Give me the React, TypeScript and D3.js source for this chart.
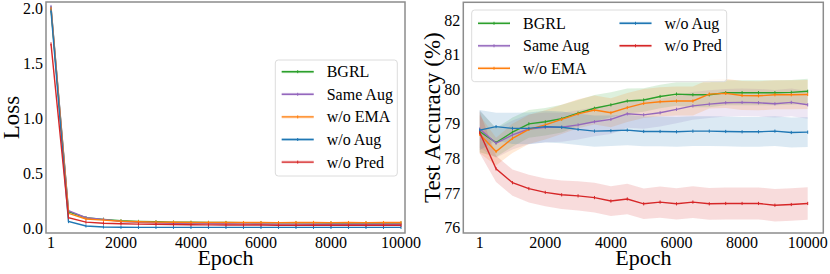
import React from "react";
import * as d3 from "d3";

const epochs = [1, 500, 1000, 1500, 2000, 2500, 3000, 3500, 4000, 4500, 5000, 5500, 6000, 6500, 7000, 7500, 8000, 8500, 9000, 9500, 10000];
const seriesNames = ["BGRL", "Same Aug", "w/o EMA", "w/o Aug", "w/o Pred"];
const seriesColors = ["#2ca02c", "#9467bd", "#ff7f0e", "#1f77b4", "#d62728"];

// Loss (left panel)
const lossBGRL = [2.01, 0.155, 0.1, 0.085, 0.072, 0.066, 0.063, 0.06, 0.058, 0.057, 0.056, 0.055, 0.054, 0.054, 0.053, 0.053, 0.052, 0.052, 0.052, 0.051, 0.051];
const lossSameAug = [2.02, 0.165, 0.1, 0.085, 0.066, 0.058, 0.054, 0.05, 0.048, 0.046, 0.045, 0.044, 0.043, 0.042, 0.042, 0.041, 0.041, 0.04, 0.04, 0.04, 0.04];
const lossNoEMA = [2.0, 0.14, 0.088, 0.078, 0.068, 0.063, 0.06, 0.058, 0.057, 0.056, 0.056, 0.056, 0.056, 0.055, 0.056, 0.057, 0.055, 0.056, 0.055, 0.056, 0.056];
const lossNoAug = [1.98, 0.065, 0.025, 0.016, 0.013, 0.012, 0.012, 0.012, 0.012, 0.012, 0.012, 0.012, 0.012, 0.012, 0.012, 0.012, 0.012, 0.012, 0.012, 0.012, 0.012];
const lossNoPred = [1.68, 0.1, 0.06, 0.05, 0.045, 0.042, 0.04, 0.038, 0.036, 0.035, 0.034, 0.033, 0.033, 0.032, 0.032, 0.031, 0.031, 0.031, 0.031, 0.031, 0.031];

// Test accuracy (right panel) means and std
const accBGRL = [78.78, 78.46, 78.76, 79.0, 79.06, 79.15, 79.31, 79.45, 79.55, 79.66, 79.69, 79.79, 79.86, 79.84, 79.84, 79.9, 79.9, 79.9, 79.9, 79.91, 79.94];
const accSameAug = [78.85, 78.44, 78.68, 78.85, 78.9, 78.9, 78.97, 79.06, 79.13, 79.29, 79.26, 79.32, 79.42, 79.52, 79.57, 79.61, 79.62, 79.61, 79.58, 79.62, 79.55];
const accNoEMA = [78.7, 78.2, 78.58, 78.84, 78.97, 79.13, 79.29, 79.4, 79.32, 79.47, 79.59, 79.64, 79.66, 79.66, 79.86, 79.88, 79.82, 79.81, 79.84, 79.84, 79.85];
const accNoAug = [78.82, 78.92, 78.87, 78.87, 78.92, 78.9, 78.84, 78.79, 78.8, 78.82, 78.78, 78.78, 78.77, 78.79, 78.79, 78.78, 78.77, 78.77, 78.79, 78.75, 78.76];
const accNoPred = [78.75, 77.7, 77.3, 77.13, 77.02, 76.95, 76.92, 76.87, 76.77, 76.83, 76.69, 76.74, 76.69, 76.74, 76.69, 76.7, 76.7, 76.7, 76.65, 76.67, 76.7];

const stdBGRL = [0.6, 0.42, 0.42, 0.4, 0.4, 0.4, 0.38, 0.38, 0.36, 0.36, 0.34, 0.34, 0.34, 0.36, 0.36, 0.36, 0.36, 0.36, 0.36, 0.36, 0.36];
const stdSameAug = [0.55, 0.42, 0.42, 0.43, 0.43, 0.42, 0.42, 0.42, 0.42, 0.4, 0.4, 0.4, 0.4, 0.4, 0.4, 0.4, 0.4, 0.4, 0.4, 0.4, 0.4];
const stdNoEMA = [0.55, 0.4, 0.42, 0.42, 0.42, 0.42, 0.42, 0.42, 0.42, 0.42, 0.42, 0.42, 0.42, 0.42, 0.42, 0.42, 0.42, 0.42, 0.42, 0.42, 0.42];
const stdNoAug = [0.58, 0.4, 0.45, 0.46, 0.46, 0.46, 0.45, 0.45, 0.44, 0.44, 0.43, 0.43, 0.43, 0.43, 0.43, 0.43, 0.43, 0.43, 0.43, 0.43, 0.43];
const stdNoPred = [0.6, 0.38, 0.38, 0.4, 0.4, 0.41, 0.42, 0.43, 0.43, 0.44, 0.44, 0.45, 0.45, 0.46, 0.46, 0.46, 0.46, 0.46, 0.47, 0.47, 0.47];

const lossSeries = [lossBGRL, lossSameAug, lossNoEMA, lossNoAug, lossNoPred];
const accSeries = [accBGRL, accSameAug, accNoEMA, accNoAug, accNoPred];
const stdSeries = [stdBGRL, stdSameAug, stdNoEMA, stdNoAug, stdNoPred];

const xTicks = [1, 2000, 4000, 6000, 8000, 10000];
const lossTicks = [0, 0.5, 1.0, 1.5, 2.0];
const accTicks = [76, 77, 78, 79, 80, 81, 82];

const FONT = "Liberation Serif, Times New Roman, DejaVu Serif, serif";

type PanelProps = {
  box: { l: number; r: number; t: number; b: number };
  x: d3.ScaleLinear<number, number>;
  y: d3.ScaleLinear<number, number>;
  yTicks: number[];
  yFmt: (v: number) => string;
  yLabel: string;
  yLabelX: number;
  series: number[][];
  std?: number[][];
};

function Panel({ box, x, y, yTicks, yFmt, yLabel, yLabelX, series, std }: PanelProps) {
  const line = d3.line<number>().x((_, i) => x(epochs[i])).y((v) => y(v));
  const area = (m: number[], s: number[]) =>
    d3
      .area<number>()
      .x((_, i) => x(epochs[i]))
      .y0((v, i) => y(v - s[i]))
      .y1((v, i) => y(v + s[i]))(m) as string;
  const clipId = `clip-${Math.round(box.l)}`;
  return (
    <g>
      <defs>
        <clipPath id={clipId}>
          <rect x={box.l} y={box.t} width={box.r - box.l} height={box.b - box.t} />
        </clipPath>
      </defs>
      <g clipPath={`url(#${clipId})`}>
        {std &&
          series.map((m, k) => (
            <path key={`a${k}`} d={area(m, std[k])} fill={seriesColors[k]} fillOpacity={0.16} stroke="none" />
          ))}
        {series.map((m, k) => (
          <g key={`l${k}`}>
            <path d={line(m) as string} fill="none" stroke={seriesColors[k]} strokeWidth={1.4} />
            {m.map((v, i) => (
              <line
                key={i}
                x1={x(epochs[i])}
                x2={x(epochs[i])}
                y1={y(v) - 1.6}
                y2={y(v) + 1.6}
                stroke={seriesColors[k]}
                strokeWidth={1}
              />
            ))}
          </g>
        ))}
      </g>
      <rect x={box.l} y={box.t} width={box.r - box.l} height={box.b - box.t} fill="none" stroke="#8c8c8c" strokeWidth={1.5} />
      {xTicks.map((t) => (
        <text key={t} x={x(t)} y={248} textAnchor="middle" fontSize={16} fontFamily={FONT} fill="#000">
          {t}
        </text>
      ))}
      {yTicks.map((t) => (
        <text key={t} x={box.l - 3} y={y(t)} dy="0.35em" textAnchor="end" fontSize={16} fontFamily={FONT} fill="#000">
          {yFmt(t)}
        </text>
      ))}
      <text x={(box.l + box.r) / 2} y={265} textAnchor="middle" fontSize={22} fontFamily={FONT} fill="#000">
        Epoch
      </text>
      <text
        transform={`translate(${yLabelX},${(box.t + box.b) / 2}) rotate(-90)`}
        textAnchor="middle"
        fontSize={23}
        fontFamily={FONT}
        fill="#000"
      >
        {yLabel}
      </text>
    </g>
  );
}

function LegendItem({ k, x0, y0 }: { k: number; x0: number; y0: number }) {
  return (
    <g>
      <line x1={x0} x2={x0 + 32} y1={y0} y2={y0} stroke={seriesColors[k]} strokeWidth={3} strokeOpacity={0.2} />
      <line x1={x0} x2={x0 + 32} y1={y0} y2={y0} stroke={seriesColors[k]} strokeWidth={1.4} />
      <line x1={x0 + 16} x2={x0 + 16} y1={y0 - 1.5} y2={y0 + 1.5} stroke={seriesColors[k]} strokeWidth={1} />
      <text x={x0 + 45} y={y0 + 5.5} fontSize={16} fontFamily={FONT} fill="#000">
        {seriesNames[k]}
      </text>
    </g>
  );
}

export default function App() {
  const leftBox = { l: 46, r: 405, t: 2, b: 233 };
  const rightBox = { l: 463.3, r: 823.3, t: 2.3, b: 233 };
  const xL = d3.scaleLinear().domain([1, 10000]).range([51, 401]);
  const yL = d3.scaleLinear().domain([0, 2]).range([228.7, 8.7]);
  const xR = d3.scaleLinear().domain([1, 10000]).range([479.7, 807.7]);
  const yR = d3.scaleLinear().domain([76, 82]).range([227.7, 20]);

  const leftRows = [71.7, 94.3, 116.9, 139.5, 162.1];
  const rightPos = [
    { x: 478, y: 23.3 },
    { x: 478, y: 45.8 },
    { x: 478, y: 68.3 },
    { x: 619.5, y: 23.3 },
    { x: 619.5, y: 45.8 },
  ];

  return (
    <svg width={830} height={274} style={{ position: "fixed", left: 0, top: 0, background: "#fff" }}>
      <rect x={0} y={0} width={830} height={274} fill="#fff" />
      <Panel box={leftBox} x={xL} y={yL} yTicks={lossTicks} yFmt={(v) => v.toFixed(1)} yLabel="Loss" yLabelX={19} series={lossSeries} />
      <Panel
        box={rightBox}
        x={xR}
        y={yR}
        yTicks={accTicks}
        yFmt={(v) => String(v)}
        yLabel="Test Accuracy (%)"
        yLabelX={440}
        series={accSeries}
        std={stdSeries}
      />
      <rect x={275.3} y={60} width={122} height={116} rx={3} fill="#fff" fillOpacity={0.8} stroke="#dcdcdc" strokeWidth={1} />
      {seriesNames.map((_, k) => (
        <LegendItem key={k} k={k} x0={281.7} y0={leftRows[k]} />
      ))}
      <rect x={471.7} y={10} width={255} height={71.7} rx={3} fill="#fff" fillOpacity={0.8} stroke="#dcdcdc" strokeWidth={1} />
      {seriesNames.map((_, k) => (
        <LegendItem key={k} k={k} x0={rightPos[k].x} y0={rightPos[k].y} />
      ))}
    </svg>
  );
}
